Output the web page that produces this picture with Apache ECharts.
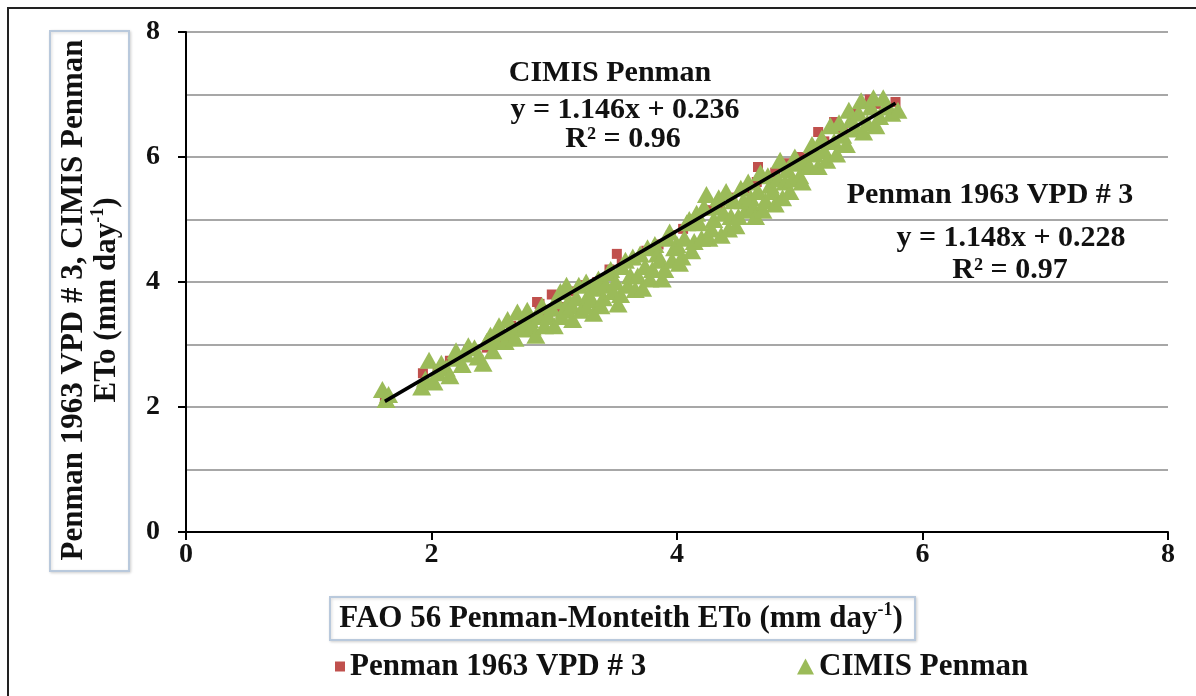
<!DOCTYPE html>
<html>
<head>
<meta charset="utf-8">
<script src="https://cdn.jsdelivr.net/npm/echarts@6/dist/echarts.min.js"></script>
<style>
html,body{margin:0;padding:0;background:#fff;}
#chart{width:1196px;height:696px;}
</style>
</head>
<body>
<div id="chart"></div>
<script>
// ---- Data ----
const seriesNames = ['Penman 1963 VPD # 3', 'CIMIS Penman'];

const penmanX = [1.62,1.93,2.05,2.15,2.20,2.30,2.45,2.55,2.65,2.75,2.86,2.88,2.95,2.98,3.05,3.15,3.25,3.35,3.45,3.51,3.55,3.65,3.75,3.85,3.95,4.05,4.15,4.25,4.35,4.45,4.55,4.65,4.66,4.80,4.90,5.00,5.10,5.15,5.20,5.28,5.35,5.45,5.57,5.62,5.78];
const penmanY = [2.10,2.54,2.60,2.74,2.75,2.90,2.95,3.10,3.30,3.40,3.68,3.65,3.50,3.80,3.60,3.85,3.95,4.00,4.20,4.45,4.30,4.35,4.50,4.60,4.75,4.85,5.00,5.15,5.25,5.35,5.50,5.60,5.84,5.75,5.90,6.00,6.10,6.40,6.25,6.56,6.40,6.70,6.92,6.85,6.88];

const cimisX = [1.60,1.63,1.65,1.92,1.95,1.98,2.02,2.05,2.08,2.12,2.15,2.18,2.20,2.25,2.28,2.30,2.35,2.38,2.42,2.45,2.48,2.50,2.52,2.55,2.58,2.60,2.62,2.65,2.68,2.70,2.72,2.75,2.78,2.80,2.82,2.85,2.88,2.90,2.92,2.95,2.98,3.00,3.02,3.05,3.06,3.08,3.10,3.12,3.14,3.15,3.18,3.20,3.22,3.25,3.26,3.28,3.30,3.32,3.34,3.36,3.38,3.40,3.42,3.44,3.46,3.48,3.50,3.52,3.54,3.55,3.58,3.60,3.62,3.64,3.66,3.68,3.70,3.72,3.74,3.76,3.78,3.80,3.82,3.84,3.86,3.88,3.90,3.92,3.94,3.96,3.98,4.00,4.02,4.04,4.06,4.08,4.10,4.12,4.14,4.16,4.18,4.20,4.22,4.24,4.26,4.28,4.30,4.32,4.34,4.36,4.38,4.40,4.42,4.44,4.46,4.48,4.50,4.52,4.54,4.56,4.58,4.60,4.62,4.64,4.66,4.68,4.70,4.72,4.74,4.76,4.78,4.80,4.82,4.84,4.86,4.88,4.90,4.92,4.94,4.96,4.98,5.00,5.02,5.05,5.08,5.10,5.12,5.15,5.18,5.20,5.22,5.25,5.28,5.30,5.32,5.35,5.38,5.40,5.42,5.45,5.48,5.50,5.52,5.55,5.58,5.60,5.62,5.65,5.68,5.70,5.75,5.80];
const cimisY = [2.28,2.12,2.20,2.32,2.45,2.75,2.40,2.55,2.70,2.62,2.50,2.78,2.90,2.68,2.85,2.98,2.95,2.80,2.70,3.05,3.15,2.90,3.05,3.30,3.18,3.05,3.40,3.20,3.10,3.52,3.30,3.25,3.55,3.40,3.28,3.15,3.45,3.62,3.30,3.45,3.58,3.30,3.70,3.85,3.45,3.55,3.95,3.70,3.62,3.40,3.75,3.95,3.55,3.62,4.00,3.80,3.72,3.50,3.90,4.05,3.62,3.75,3.95,4.15,4.20,3.85,4.00,3.65,3.80,4.25,4.35,3.95,4.10,4.40,3.88,4.10,4.45,3.90,4.25,4.55,4.05,4.20,4.60,4.45,4.35,4.05,4.20,4.70,4.80,4.35,4.55,4.60,4.30,4.40,4.70,4.95,5.00,4.50,4.65,5.10,4.95,4.70,5.20,5.40,4.70,4.85,5.00,5.20,5.35,4.75,5.10,5.45,4.85,5.05,5.30,4.90,5.05,5.50,5.30,5.15,5.60,5.35,5.20,5.05,5.45,5.75,5.15,5.30,5.70,5.55,5.45,5.25,5.65,5.95,5.35,5.60,5.80,5.45,5.65,6.00,5.90,5.70,5.60,5.95,5.85,6.20,6.05,5.85,6.30,6.10,5.95,6.50,6.25,6.05,6.55,6.35,6.20,6.75,6.60,6.45,6.70,6.90,6.40,6.55,6.80,6.95,6.50,6.65,6.95,6.80,6.70,6.75];

// trend line end points (CIMIS Penman: y = 1.146x + 0.236)
const trendX = [1.62, 5.78];
const trendY = [2.09, 6.86];

const xTicks = [0, 2, 4, 6, 8];
const yTicks = [0, 2, 4, 6, 8];

// ---- Chart ----
const zip = (xs, ys) => xs.map((x, i) => [x, ys[i]]);
const FONT = '"Liberation Serif", "Times New Roman", serif';
const chart = echarts.init(document.getElementById('chart'), null, {renderer: 'canvas'});

const annoStyle = (txt, x, y) => ({
  type: 'text', x: x, y: y, z: 100,
  style: {text: txt, font: 'bold 30px ' + FONT, fill: '#111', align: 'center', verticalAlign: 'middle'}
});

const option = {
  backgroundColor: '#fff',
  animation: false,
  grid: {left: 186, top: 32, right: 28, bottom: 164, containLabel: false},
  xAxis: {
    type: 'value', min: xTicks[0], max: xTicks[xTicks.length - 1], interval: 2,
    axisLine: {show: true, lineStyle: {color: '#000', width: 2}},
    axisTick: {show: true, length: 8, lineStyle: {color: '#000', width: 2}},
    axisLabel: {margin: 9, color: '#111', fontFamily: FONT, fontWeight: 'bold', fontSize: 28},
    splitLine: {show: false}
  },
  yAxis: {
    type: 'value', min: yTicks[0], max: yTicks[yTicks.length - 1], interval: 2,
    axisLine: {show: true, lineStyle: {color: '#000', width: 2}},
    axisTick: {show: true, length: 8, lineStyle: {color: '#000', width: 2}},
    axisLabel: {margin: 26, color: '#111', fontFamily: FONT, fontWeight: 'bold', fontSize: 28},
    splitLine: {show: true, lineStyle: {color: '#8a8a8a', width: 1.5}},
    minorTick: {show: false, splitNumber: 2},
    minorSplitLine: {show: true, lineStyle: {color: '#8a8a8a', width: 1.5}}
  },
  legend: [
    {data: [{name: seriesNames[0], icon: 'rect'}], left: 330, top: 646, itemWidth: 10, itemHeight: 10, itemGap: 10,
     textStyle: {fontFamily: FONT, fontWeight: 'bold', fontSize: 31, color: '#111'}},
    {data: [{name: seriesNames[1], icon: 'triangle'}], left: 792, top: 646, itemWidth: 17, itemHeight: 16, itemGap: 10,
     textStyle: {fontFamily: FONT, fontWeight: 'bold', fontSize: 31, color: '#111'}}
  ],
  series: [
    {name: seriesNames[0], type: 'scatter', symbol: 'rect', symbolSize: 10,
     itemStyle: {color: '#C0504D', opacity: 1}, data: zip(penmanX, penmanY), z: 2},
    {name: seriesNames[1], type: 'scatter', symbol: 'triangle', symbolSize: [19, 17],
     itemStyle: {color: '#9BBB59', opacity: 1}, data: zip(cimisX, cimisY), z: 3},
    {name: 'trend', type: 'line', data: zip(trendX, trendY), symbol: 'none',
     lineStyle: {color: '#000', width: 3.5}, z: 4, silent: true}
  ],
  graphic: [
    {type: 'rect', shape: {x: 8, y: 8, width: 1200, height: 700}, style: {fill: 'none', stroke: '#222', lineWidth: 2}, z: 0},
    // y axis title box
    {type: 'rect', shape: {x: 50, y: 31, width: 79, height: 540}, style: {fill: '#fff', stroke: '#b9c9dc', lineWidth: 2, shadowColor: 'rgba(0,0,0,0.15)', shadowBlur: 3, shadowOffsetX: 1, shadowOffsetY: 1}, z: 1},
    {type: 'text', x: 89, y: 300, rotation: Math.PI / 2, z: 10,
     style: {
       text: '{a|Penman 1963 VPD # 3, CIMIS Penman}\n{a|ETo (mm day}{s|-1}{a|)}',
       align: 'center', verticalAlign: 'middle', fill: '#111',
       rich: {
         a: {fontFamily: FONT, fontWeight: 'bold', fontSize: 31, lineHeight: 33, verticalAlign: 'bottom'},
         s: {fontFamily: FONT, fontWeight: 'bold', fontSize: 18, lineHeight: 33, verticalAlign: 'top'}
       }
     }},
    // x axis title box
    {type: 'rect', shape: {x: 330, y: 597, width: 585, height: 43}, style: {fill: '#fff', stroke: '#b9c9dc', lineWidth: 2, shadowColor: 'rgba(0,0,0,0.15)', shadowBlur: 3, shadowOffsetX: 1, shadowOffsetY: 1}, z: 1},
    {type: 'text', x: 621, y: 618, z: 10,
     style: {
       text: '{a|FAO 56 Penman-Monteith ETo (mm day}{s|-1}{a|)}',
       align: 'center', verticalAlign: 'middle', fill: '#111',
       rich: {
         a: {fontFamily: FONT, fontWeight: 'bold', fontSize: 31, lineHeight: 33, verticalAlign: 'bottom'},
         s: {fontFamily: FONT, fontWeight: 'bold', fontSize: 18, lineHeight: 33, verticalAlign: 'top'}
       }
     }},
    annoStyle('CIMIS Penman', 610, 73),
    annoStyle('y = 1.146x + 0.236', 625, 110),
    annoStyle('R² = 0.96', 623, 139),
    annoStyle('Penman 1963 VPD # 3', 990, 195),
    annoStyle('y = 1.148x + 0.228', 1011, 238),
    annoStyle('R² = 0.97', 1010, 270)
  ]
};
chart.setOption(option);
</script>
</body>
</html>
